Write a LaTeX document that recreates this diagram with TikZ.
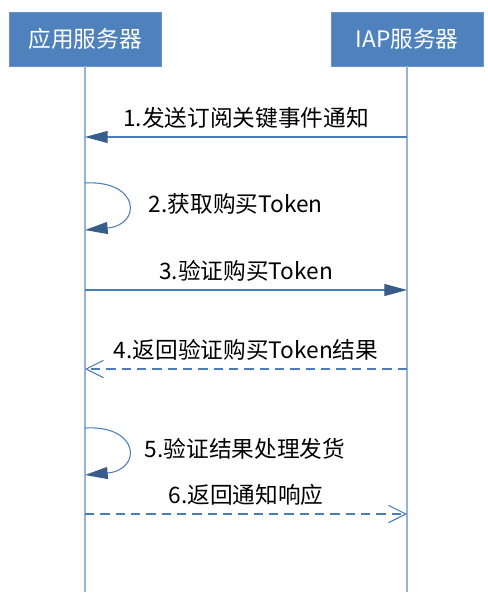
\documentclass[tikz,border=0pt]{standalone}
\usepackage{fontspec}
\usepackage{tikz}
\usetikzlibrary{arrows.meta,positioning}
\newfontfamily\cjk{Noto Sans CJK SC}
\definecolor{SBlue}{HTML}{4F81BD}
\definecolor{LBlue}{HTML}{95B3D7}
\definecolor{MBlue}{HTML}{4A7EBB}
\definecolor{HBlue}{HTML}{385D8A}

\begin{document}
\begin{tikzpicture}[x=0.75pt,y=-0.75pt,
  srv/.style={draw=SBlue!85!white,fill=SBlue,text=white,
    minimum width=114pt,minimum height=40.5pt,font=\cjk\fontsize{17}{20}\selectfont},
  life/.style={draw=LBlue,line width=1.1pt},
  call/.style={draw=MBlue,line width=0.8pt,-{Triangle[length=17pt,width=9pt,color=HBlue]}},
  back/.style={draw=MBlue,line width=0.8pt,dash pattern=on 7pt off 4.5pt,
    -{Straight Barb[length=13pt,width=13pt]}},
  lbl/.style={font=\cjk\fontsize{17}{20}\selectfont,inner sep=0pt,text=black}
]
  \useasboundingbox (0,0) rectangle (488,599);
  \node[srv] (app) at (85,39) {应用服务器};
  \node[srv] (iap) at (407,39) {IAP服务器};
  \coordinate (appEnd) at (85,592);
  \coordinate (iapEnd) at (407,592);
  \draw[life] (app.south) -- (appEnd);
  \draw[life] (iap.south) -- (iapEnd);
  % message points on the two lifelines
  \foreach \n/\y in {1/137,3/290,4/369,6/514}
    {\coordinate (a\n) at (85,\y); \coordinate (i\n) at (407,\y);}
  \coordinate (a2s) at (85,183);
  \coordinate (a2e) at (85,230);
  \coordinate (a5s) at (85,428);
  \coordinate (a5e) at (85,475);
  \draw[call] (i1) -- node[lbl,midway,above=6pt] {1.发送订阅关键事件通知} (a1);
  \draw[call] (a2s) .. controls (140,180) and (142,225) .. (a2e)
    node[lbl,pos=0.5,anchor=west,xshift=16pt] {2.获取购买Token};
  \draw[call] (a3) -- node[lbl,midway,above=6pt] {3.验证购买Token} (i3);
  \draw[back] (i4) -- node[lbl,midway,above=6pt] {4.返回验证购买Token结果} (a4);
  \draw[call] (a5s) .. controls (140,425) and (142,470) .. (a5e)
    node[lbl,pos=0.5,anchor=west,xshift=13pt] {5.验证结果处理发货};
  \draw[back] (a6) -- node[lbl,midway,above=6pt] {6.返回通知响应} (i6);
\end{tikzpicture}
\end{document}
